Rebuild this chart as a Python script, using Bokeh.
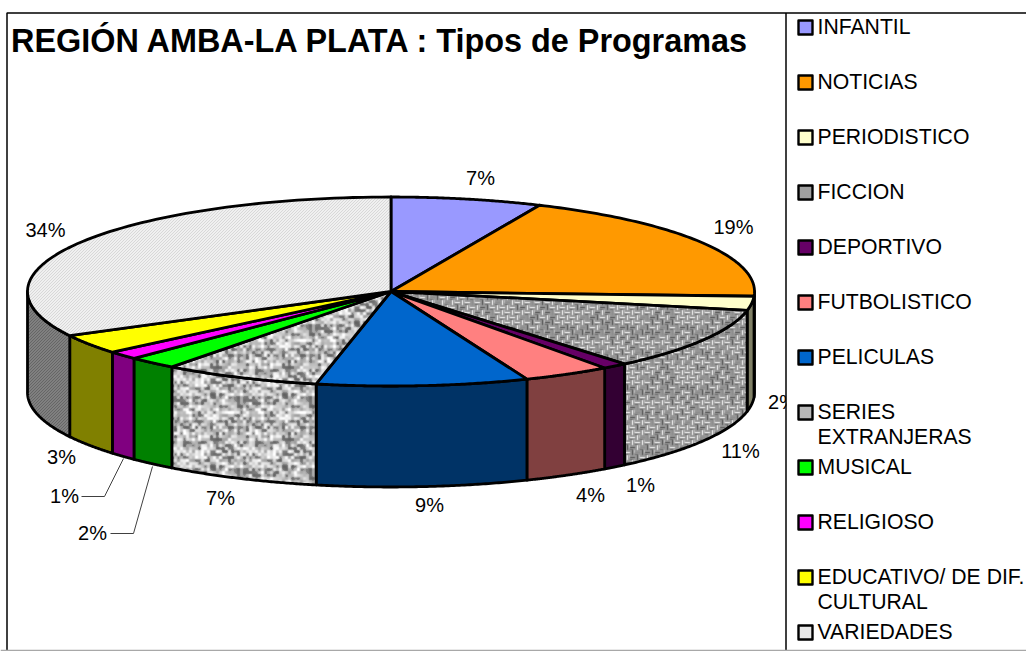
import base64, struct, zlib
import numpy as np
from bokeh.models import ImageURLTexture, Range1d
from bokeh.plotting import figure
from bokeh.core.properties import value as cv
from bokeh.embed import file_html
from bokeh.resources import INLINE

TITLE = "REGIÓN AMBA-LA PLATA : Tipos de Programas"
CATEGORIES = ["INFANTIL", "NOTICIAS", "PERIODISTICO", "FICCION", "DEPORTIVO", "FUTBOLISTICO",
              "PELICULAS", "SERIES\nEXTRANJERAS", "MUSICAL", "RELIGIOSO",
              "EDUCATIVO/ DE DIF.\nCULTURAL", "VARIEDADES"]
VALUES = [6.7, 19.1, 2.4, 10.7, 1.1, 3.9, 9.4, 7.0, 2.2, 1.4, 3.35, 32.75]
PCT_LABELS = ["7%", "19%", "2%", "11%", "1%", "4%", "9%", "7%", "2%", "1%", "3%", "34%"]
TOP_COLORS = ["#9999FF", "#FF9900", "#FFFFCC", "#A0A0A0", "#660066", "#FF8080",
              "#0066CC", "#B8B8B8", "#00FF00", "#FF00FF", "#FFFF00", "#E8E8E8"]
SIDE_COLORS = ["#4D4D80", "#804D00", "#808066", "#A0A0A0", "#330033", "#804040",
               "#003366", "#B0B0B0", "#008000", "#800080", "#808000", "#808080"]
PCT_POS = [(480, 177), (733, 226), (782, 401), (740, 450), (640, 484), (590, 494),
           (429, 504), (220, 497), (92, 532), (64, 495), (61, 456), (45, 229)]
LEGEND_Y = [26, 81, 136, 191, 246, 301, 356, 411, 466, 521, 576, 631]


def png_url(a):
    a = np.clip(a, 0, 255).astype(np.uint8)
    h, w = a.shape
    raw = b"".join(b"\x00" + a[r].tobytes() for r in range(h))
    def chunk(t, d):
        return struct.pack(">I", len(d)) + t + d + struct.pack(">I", zlib.crc32(t + d))
    png = (b"\x89PNG\r\n\x1a\n" + chunk(b"IHDR", struct.pack(">IIBBBBB", w, h, 8, 0, 0, 0, 0))
           + chunk(b"IDAT", zlib.compress(raw)) + chunk(b"IEND", b""))
    return "data:image/png;base64," + base64.b64encode(png).decode()


def grain(n):
    j, i = np.mgrid[0:n, 0:n]
    v = np.sin(i * 12.9898 + j * 78.233) * 43758.5453
    return v - np.floor(v)


def blur(a):
    return (a * 4 + np.roll(a, 1, 0) + np.roll(a, -1, 0) + np.roll(a, 1, 1) + np.roll(a, -1, 1)) / 8


def granite():
    g = grain(24)
    g = np.kron(g, np.ones((3, 3)))
    g = blur(blur(blur(g)))
    g = (g - g.mean()) / g.std()
    return 188 + g * 32 - 18 * (g < -1.0)


def weave():
    n = 60
    a = np.full((n, n), 150.0)
    g = grain(n)
    for r in range(0, n, 5):
        for c in range(0, n, 5):
            v = g[r, c]
            tone = 250 if v > 0.45 else (80 if v < 0.3 else 140)
            if (r // 5 + c // 5) % 2:
                a[r + 2, c:c + 5] = tone
                a[r + 4, c:c + 3] = 110
            else:
                a[r:r + 5, c + 2] = tone
                a[r:r + 3, c + 4] = 190
    return blur(a)


def diag(light, dark, n=6):
    j, i = np.mgrid[0:n, 0:n]
    return np.where((i + j) % 3 == 0, dark, light).astype(float)


TEX_WEAVE = ImageURLTexture(url=png_url(weave()))
TEX_GRANITE = ImageURLTexture(url=png_url(granite()))
TEX_LIGHT = ImageURLTexture(url=png_url(diag(240, 216)))
TEX_DARK = ImageURLTexture(url=png_url(diag(128, 102)))
TOP_TEX = {3: TEX_WEAVE, 7: TEX_GRANITE, 11: TEX_LIGHT}
SIDE_TEX = {3: TEX_WEAVE, 7: TEX_GRANITE, 11: TEX_DARK}

CX, CY, RX, RY, DEPTH = 390.5, 291.0, 363.5, 94.5, 101.0
W, H = 1026, 651
p = figure(width=W, height=H, output_backend="svg", toolbar_location=None,
           x_range=Range1d(0, W), y_range=Range1d(H, 0), x_axis_type=None, y_axis_type=None,
           min_border=0, outline_line_color=None)
p.grid.visible = False
p.background_fill_color = "white"
p.border_fill_color = "white"


def fill_kw(color, tex, lw=2.8):
    kw = dict(fill_color=color, line_color="black", line_width=lw, line_join="round")
    if tex is not None:
        kw.update(hatch_pattern="tile", hatch_extra={"tile": tex}, hatch_color="white", hatch_alpha=1.0)
    return kw


def arc(a, b, n=80):
    t = np.radians(np.linspace(a, b, n))
    return CX + RX * np.sin(t), CY - RY * np.cos(t)


edges = np.concatenate([[0], np.cumsum(VALUES)]) / sum(VALUES) * 360

# side walls (front half of the rim only)
for k in range(len(VALUES)):
    a, b = max(edges[k], 90), min(edges[k + 1], 270)
    if a >= b:
        continue
    ax, ay = arc(a, b)
    p.patch(np.r_[ax, ax[::-1]], np.r_[ay, ay[::-1] + DEPTH], **fill_kw(SIDE_COLORS[k], SIDE_TEX.get(k)))

# top slices
for k in range(len(VALUES)):
    ax, ay = arc(edges[k], edges[k + 1])
    p.patch(np.r_[CX, ax, CX], np.r_[CY, ay, CY], **fill_kw(TOP_COLORS[k], TOP_TEX.get(k)))

# percent labels and leader lines
for lab, (x, y) in zip(PCT_LABELS, PCT_POS):
    p.text([x], [y], text=[lab], text_font=cv("Liberation Sans"), text_font_size="20px",
           text_align="center", text_baseline="middle", text_color="black")
p.line([81, 104, 123], [496, 496, 458], line_color="#404040", line_width=1)
p.line([110, 133, 152], [533, 533, 466], line_color="#404040", line_width=1)

# legend panel hides whatever overruns the divider
p.quad(left=[786], right=[W], top=[13], bottom=[H], fill_color="white", line_color=None)
for k, (name, y) in enumerate(zip(CATEGORIES, LEGEND_Y)):
    p.quad(left=[798], right=[812], top=[y - 6], bottom=[y + 8], **fill_kw(TOP_COLORS[k], TOP_TEX.get(k), 2.4))
    for n, line in enumerate(name.split("\n")):
        p.text([817], [y + n * 25], text=[line], text_font=cv("Liberation Sans"), text_font_size="21.2px",
               text_align="left", text_baseline="middle", text_color="black")

p.text([10.5], [40], text=[TITLE], text_font=cv("Liberation Sans"), text_font_size="32.4px",
       text_font_style="bold", text_align="left", text_baseline="middle", text_color="black")

# chart frame
p.line([W, 6.5, 6.5], [12.5, 12.5, H], line_color="black", line_width=1.5)
p.line([785.5, 785.5], [12.5, H], line_color="black", line_width=1.5)
p.line([0, W], [650, 650], line_color="#A8A8A8", line_width=1.5)

open("out.html", "w").write(file_html(p, INLINE))
